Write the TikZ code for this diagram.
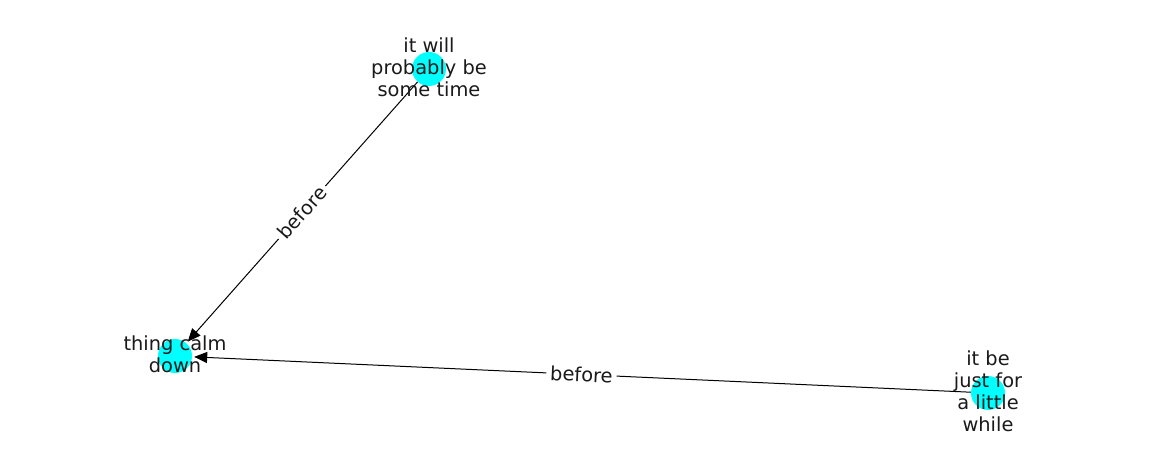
\documentclass[tikz,border=0pt]{standalone}
\usepackage{fontspec}
\setmainfont{DejaVu Sans}
\usetikzlibrary{arrows.meta}
\definecolor{aqua}{RGB}{0,255,255}
\definecolor{ink}{RGB}{26,26,26}
\begin{document}
\begin{tikzpicture}[x=1pt,y=-1pt,
  vert/.style={circle,fill=aqua,minimum size=34pt,inner sep=0pt},
  vlabel/.style={align=center,font=\fontsize{19.4}{22}\selectfont,text=ink,yshift=2pt},
  elabel/.style={fill=white,inner sep=4pt,font=\fontsize{19.4}{22}\selectfont,text=ink},
  edge/.style={draw=black,line width=1pt,shorten >=2pt,-{Triangle[length=13pt,width=11pt]}}]
\useasboundingbox (0,0) rectangle (1162,462);
\node[vert] (a) at (429,69) {};
\node[vert] (b) at (175,356) {};
\node[vert] (c) at (988,393) {};
\draw[edge] (a) -- node[elabel,sloped] {before} (b);
\draw[edge] (c) -- node[elabel,sloped] {before} (b);
\node[vlabel] (al) at (a) {it will\\probably be\\some time};
\node[vlabel] (bl) at (b) {thing calm\\down};
\node[vlabel] (cl) at (c) {it be\\just for\\a little\\while};
\end{tikzpicture}
\end{document}
